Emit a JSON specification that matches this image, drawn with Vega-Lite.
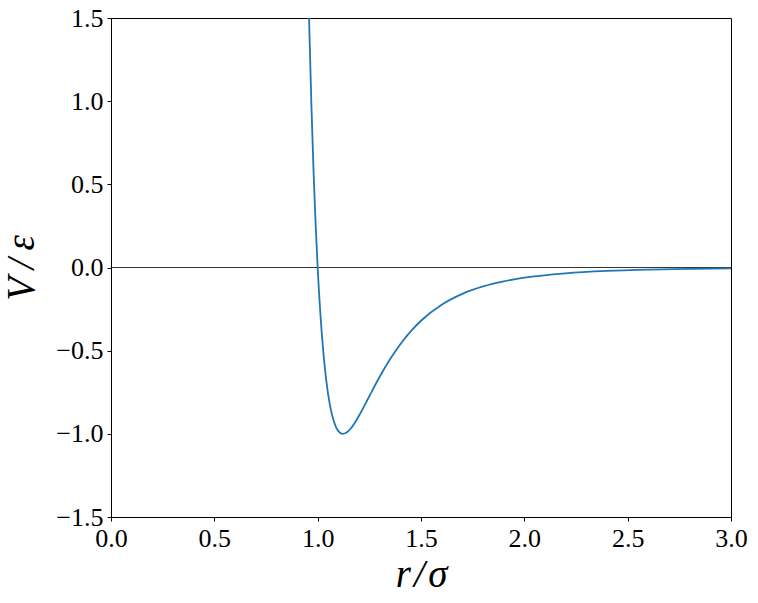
{
  "$schema": "https://vega.github.io/schema/vega-lite/v6.json",
  "width": 620,
  "height": 499,
  "autosize": {"type": "none"},
  "padding": {"left": 111, "top": 18, "right": 27, "bottom": 86},
  "background": "white",
  "config": {
    "font": "Liberation Serif",
    "view": {"stroke": "black", "strokeWidth": 1},
    "axis": {
      "grid": false,
      "domainColor": "black",
      "tickColor": "black",
      "tickSize": 4,
      "labelFont": "Liberation Serif",
      "labelFontSize": 26,
      "labelColor": "black",
      "labelFlush": false,
      "titleFont": "Liberation Serif",
      "titleFontStyle": "italic",
      "titleFontWeight": "normal",
      "titleFontSize": 39,
      "titleColor": "black",
      "labelPadding": 4
    }
  },
  "datasets": {
    "lj": [
      {"r": 0.95, "V": 1.961},
      {"r": 0.96, "V": 1.418},
      {"r": 0.97, "V": 0.963},
      {"r": 0.98, "V": 0.582},
      {"r": 0.99, "V": 0.264},
      {"r": 1.0, "V": 0.0},
      {"r": 1.02, "V": -0.398},
      {"r": 1.04, "V": -0.663},
      {"r": 1.06, "V": -0.832},
      {"r": 1.08, "V": -0.932},
      {"r": 1.10, "V": -0.984},
      {"r": 1.12, "V": -1.0},
      {"r": 1.14, "V": -0.992},
      {"r": 1.16, "V": -0.968},
      {"r": 1.18, "V": -0.933},
      {"r": 1.20, "V": -0.891},
      {"r": 1.25, "V": -0.774},
      {"r": 1.30, "V": -0.657},
      {"r": 1.35, "V": -0.552},
      {"r": 1.40, "V": -0.461},
      {"r": 1.45, "V": -0.384},
      {"r": 1.50, "V": -0.320},
      {"r": 1.60, "V": -0.2242},
      {"r": 1.70, "V": -0.1589},
      {"r": 1.80, "V": -0.1141},
      {"r": 1.90, "V": -0.0832},
      {"r": 2.00, "V": -0.0615},
      {"r": 2.20, "V": -0.0350},
      {"r": 2.40, "V": -0.0208},
      {"r": 2.60, "V": -0.0129},
      {"r": 2.80, "V": -0.0083},
      {"r": 3.00, "V": -0.0055}
    ],
    "zero": [{"V": 0}]
  },
  "layer": [
    {
      "data": {"name": "zero"},
      "mark": {"type": "rule", "color": "black", "strokeWidth": 0.8},
      "encoding": {
        "y": {"field": "V", "type": "quantitative", "scale": {"domain": [-1.5, 1.5]}}
      }
    },
    {
      "data": {"name": "lj"},
      "mark": {"type": "line", "color": "#1f77b4", "strokeWidth": 1.8, "clip": true, "interpolate": "monotone"},
      "encoding": {
        "x": {
          "field": "r", "type": "quantitative",
          "scale": {"domain": [0, 3], "nice": false, "zero": false},
          "axis": {"values": [0, 0.5, 1, 1.5, 2, 2.5, 3], "format": ".1f", "title": "r\u200a/\u200aσ", "titlePadding": 4}
        },
        "y": {
          "field": "V", "type": "quantitative",
          "scale": {"domain": [-1.5, 1.5], "nice": false, "zero": false},
          "axis": {"values": [-1.5, -1, -0.5, 0, 0.5, 1, 1.5], "format": ".1f", "title": "V\u2009/\u2009ε", "titlePadding": 14}
        }
      }
    }
  ]
}
